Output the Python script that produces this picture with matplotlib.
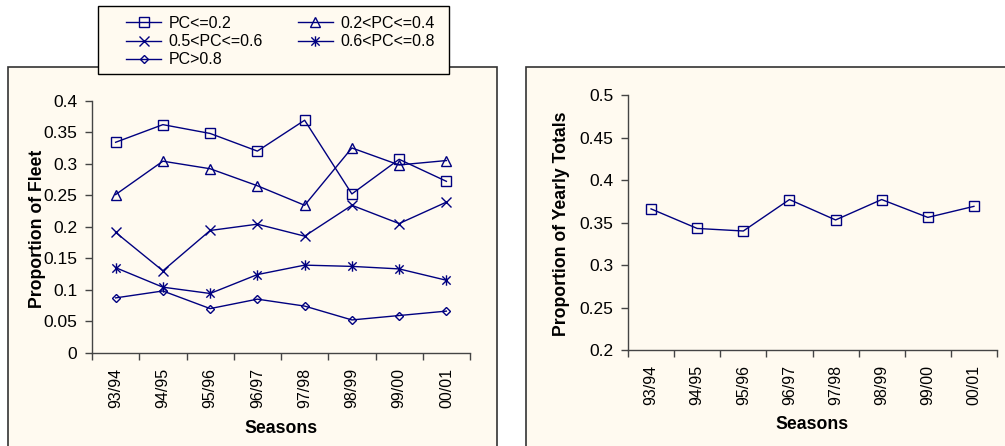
import matplotlib
matplotlib.use("Agg")
import matplotlib.pyplot as plt
from matplotlib.patches import Rectangle
from matplotlib.path import Path
from matplotlib.ticker import FixedLocator, NullFormatter, FixedFormatter

# ---- data -------------------------------------------------------------
seasons = ["93/94", "94/95", "95/96", "96/97", "97/98", "98/99", "99/00", "00/01"]

series_labels = ["PC<=0.2", "0.2<PC<=0.4", "0.5<PC<=0.6", "0.6<PC<=0.8", "PC>0.8"]
pc_le_02 = [0.334, 0.362, 0.348, 0.320, 0.369, 0.252, 0.307, 0.272]
pc_02_04 = [0.251, 0.304, 0.292, 0.265, 0.234, 0.325, 0.298, 0.305]
pc_05_06 = [0.191, 0.130, 0.194, 0.204, 0.185, 0.234, 0.205, 0.239]
pc_06_08 = [0.135, 0.104, 0.094, 0.124, 0.139, 0.137, 0.133, 0.115]
pc_gt_08 = [0.087, 0.098, 0.070, 0.085, 0.074, 0.052, 0.059, 0.066]

yearly_totals = [0.366, 0.343, 0.340, 0.377, 0.353, 0.377, 0.356, 0.369]

# ---- style ------------------------------------------------------------
plt.rcParams["font.family"] = ["Liberation Sans", "DejaVu Sans"]
CREAM = "#FFFAF0"
NAVY = "#000080"
FRAME = "#333333"
AXIS = "#444444"
XTICK_FS = 11.5
YTICK_FS = 12.5
LEGEND_FS = 11.5
LABEL_FS = 12.7

W, H = 1005, 446
fig = plt.figure(figsize=(W / 100, H / 100), dpi=100)
fig.patch.set_facecolor("white")


def px_rect(x0, y0, x1, y1, **kw):
    """Rectangle given in pixel coordinates measured from the top-left."""
    r = Rectangle((x0 / W, 1 - y1 / H), (x1 - x0) / W, (y1 - y0) / H,
                  transform=fig.transFigure, **kw)
    fig.add_artist(r)
    return r


# chart-area frames
px_rect(8, 66.7, 497, 460, facecolor=CREAM, edgecolor=FRAME, lw=1.2, zorder=-2)
px_rect(526, 66.7, 1020, 460, facecolor=CREAM, edgecolor=FRAME, lw=1.2, zorder=-2)

# asterisk marker: an x with a vertical bar through it
star = Path([(-1, -1), (1, 1), (-1, 1), (1, -1), (0, -1.25), (0, 1.25)],
            [Path.MOVETO, Path.LINETO, Path.MOVETO, Path.LINETO, Path.MOVETO, Path.LINETO])

markers = [("s", 6.5), ("^", 7.5), ("x", 7.0), (star, 7.5), ("D", 4.5)]


def style_axes(ax, ylo, yhi, ystep, ylabel, ylab_x, ylab_y, xlab_y):
    ax.set_facecolor("none")
    for s in ("top", "right"):
        ax.spines[s].set_visible(False)
    for s in ("left", "bottom"):
        ax.spines[s].set_color(AXIS)
        ax.spines[s].set_linewidth(1.0)
    n = len(seasons)
    ax.set_xlim(-0.5, n - 0.5)
    ax.set_ylim(ylo, yhi)
    yt = []
    v = ylo
    while v <= yhi + 1e-9:
        yt.append(round(v, 3))
        v += ystep
    ax.set_yticks(yt)
    ax.set_yticklabels([f"{t:g}" for t in yt])
    # boundary ticks between categories, labels at category centres
    ax.xaxis.set_major_locator(FixedLocator([i - 0.5 for i in range(n + 1)]))
    ax.xaxis.set_major_formatter(NullFormatter())
    ax.xaxis.set_minor_locator(FixedLocator(list(range(n))))
    ax.xaxis.set_minor_formatter(FixedFormatter(seasons))
    ax.tick_params(axis="x", which="major", direction="out", length=5,
                   width=1.0, color=AXIS)
    ax.tick_params(axis="x", which="minor", length=0, pad=11,
                   labelsize=XTICK_FS, labelrotation=90)
    ax.tick_params(axis="y", direction="out", length=5, width=1.0,
                   color=AXIS, labelsize=YTICK_FS, pad=5.5)
    ax.set_xlabel("Seasons", fontsize=LABEL_FS, fontweight="bold", va="center")
    ax.xaxis.set_label_coords(0.5, xlab_y)
    ax.set_ylabel(ylabel, fontsize=LABEL_FS, fontweight="bold", va="center")
    ax.yaxis.set_label_coords(ylab_x, ylab_y)


# ---- left: proportion of fleet by PC band ------------------------------
axL = fig.add_axes([92 / W, 1 - 352.7 / H, 378 / W, 252 / H])
x = list(range(len(seasons)))
handles = []
for vals, lab, (m, ms) in zip([pc_le_02, pc_02_04, pc_05_06, pc_06_08, pc_gt_08],
                              series_labels, markers):
    h, = axL.plot(x, vals, color=NAVY, lw=1.0, marker=m, markersize=ms,
                  markerfacecolor="none", markeredgecolor=NAVY,
                  markeredgewidth=1.0, label=lab, clip_on=False)
    handles.append(h)
style_axes(axL, 0, 0.4, 0.05, "Proportion of Fleet", -0.145, 0.491, -0.299)

# ---- right: proportion of yearly totals --------------------------------
axR = fig.add_axes([628 / W, 1 - 350 / H, 369 / W, 255 / H])
axR.plot(x, yearly_totals, color=NAVY, lw=1.0, marker="s", markersize=6.5,
         markerfacecolor="none", markeredgecolor=NAVY, markeredgewidth=1.0,
         clip_on=False)
style_axes(axR, 0.2, 0.5, 0.05, "Proportion of Yearly Totals", -0.179, 0.494, -0.294)

# ---- legend (row-major order in two columns) ---------------------------
px_rect(98, 6, 449, 74, facecolor=CREAM, edgecolor="black", lw=1.0, zorder=5)
order = [0, 2, 4, 1, 3]
leg = fig.legend([handles[i] for i in order], [series_labels[i] for i in order],
                 loc="upper left", bbox_to_anchor=(118 / W, 1 - 8 / H),
                 ncol=2, frameon=False, borderpad=0, handlelength=2.2,
                 handletextpad=0.45, columnspacing=2.2, labelspacing=0.2,
                 fontsize=LEGEND_FS)
leg.set_zorder(6)

fig.savefig("out.png", dpi=100)
